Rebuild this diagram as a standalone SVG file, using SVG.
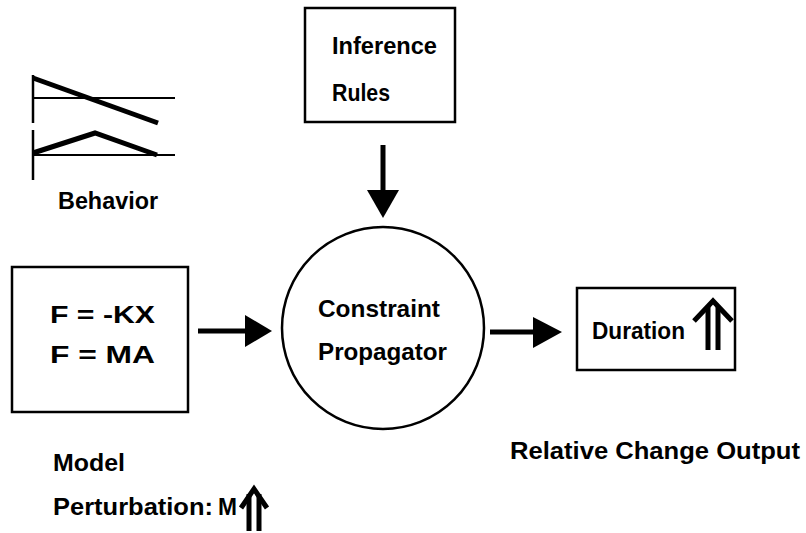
<svg xmlns="http://www.w3.org/2000/svg" width="806" height="533" viewBox="0 0 806 533">
<style>
.box{fill:none;stroke:#000;stroke-width:2.5}
.t{font-family:"Liberation Sans",Arial,sans-serif;font-weight:bold;font-size:24px;fill:#000}
.ln{stroke:#000;fill:none;stroke-linecap:butt}
.ar{fill:#000}
</style>
<rect width="806" height="533" fill="#fff"/>
<g id="behavior">
  <line class="ln" x1="33" y1="75" x2="33" y2="123" stroke-width="2.5"/>
  <line class="ln" x1="33" y1="98" x2="175" y2="98" stroke-width="2"/>
  <line class="ln" x1="33" y1="78" x2="158" y2="123" stroke-width="5"/>
  <line class="ln" x1="33" y1="130" x2="33" y2="180" stroke-width="2.5"/>
  <line class="ln" x1="33" y1="155" x2="175" y2="155" stroke-width="2"/>
  <polyline class="ln" points="33,153 95,133 157,155" stroke-width="5" stroke-linejoin="miter"/>
  <text class="t" x="58" y="209" textLength="100" lengthAdjust="spacingAndGlyphs">Behavior</text>
</g>
<g id="inference">
  <rect class="box" x="305" y="8" width="150" height="114"/>
  <text class="t" x="332" y="54" textLength="105" lengthAdjust="spacingAndGlyphs">Inference</text>
  <text class="t" x="332" y="101" textLength="58" lengthAdjust="spacingAndGlyphs">Rules</text>
</g>
<g id="model">
  <rect class="box" x="12" y="267" width="176" height="145"/>
  <text class="t" x="50" y="323" textLength="105" lengthAdjust="spacingAndGlyphs">F = -KX</text>
  <text class="t" x="50" y="363" textLength="105" lengthAdjust="spacingAndGlyphs">F = MA</text>
  <text class="t" x="53" y="471" textLength="72" lengthAdjust="spacingAndGlyphs">Model</text>
  <text class="t" x="53" y="515" textLength="160" lengthAdjust="spacingAndGlyphs">Perturbation:</text>
  <text class="t" x="218" y="515" textLength="19" lengthAdjust="spacingAndGlyphs">M</text>
  <g class="ln" stroke-width="5">
    <polyline points="241,508 254,489 267,508"/>
    <line x1="249" y1="494" x2="249" y2="531"/>
    <line x1="259" y1="494" x2="259" y2="531"/>
  </g>
</g>
<g id="propagator">
  <circle cx="383" cy="328" r="101" fill="none" stroke="#000" stroke-width="2.5"/>
  <text class="t" x="318" y="317" textLength="122" lengthAdjust="spacingAndGlyphs">Constraint</text>
  <text class="t" x="318" y="360" textLength="129" lengthAdjust="spacingAndGlyphs">Propagator</text>
</g>
<g id="duration">
  <rect class="box" x="577" y="288" width="158" height="82"/>
  <text class="t" x="592" y="339" textLength="93" lengthAdjust="spacingAndGlyphs">Duration</text>
  <g class="ln" stroke-width="5">
    <polyline points="694,321 713,301 732,321"/>
    <line x1="708" y1="306" x2="708" y2="350"/>
    <line x1="718" y1="306" x2="718" y2="350"/>
  </g>
  <text class="t" x="510" y="459" textLength="290" lengthAdjust="spacingAndGlyphs">Relative Change Output</text>
</g>
<g id="connectors">
  <line class="ln" x1="383" y1="145" x2="383" y2="192" stroke-width="5"/>
  <polygon class="ar" points="367,190 399,190 383,218"/>
  <line class="ln" x1="198" y1="331" x2="247" y2="331" stroke-width="5"/>
  <polygon class="ar" points="245,315 272,331 245,347"/>
  <line class="ln" x1="490" y1="332" x2="535" y2="332" stroke-width="5"/>
  <polygon class="ar" points="533,317 562,332 533,348"/>
</g>
</svg>
